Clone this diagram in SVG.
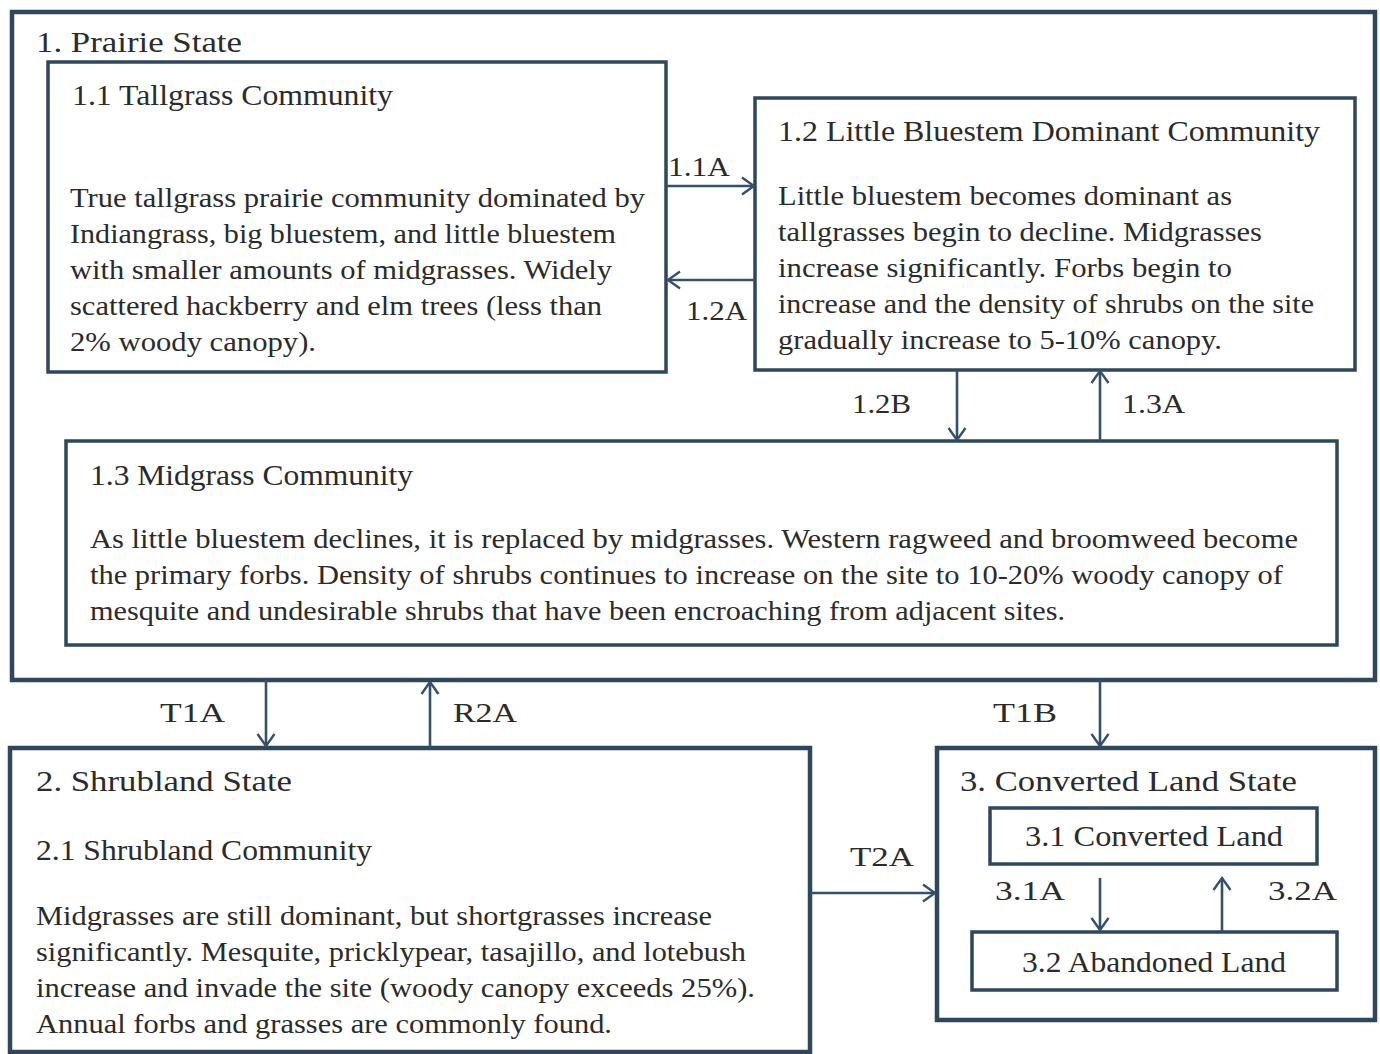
<svg xmlns="http://www.w3.org/2000/svg" width="1380" height="1054" viewBox="0 0 1380 1054">
<defs>
<marker id="ah" viewBox="0 0 16 20" refX="14" refY="10" markerWidth="16" markerHeight="20" markerUnits="userSpaceOnUse" orient="auto">
<path d="M2,1.5 L14,10 L2,18.5" fill="none" stroke="#34506a" stroke-width="2.4"/>
</marker>
</defs>
<style>
.box{fill:#ffffff;stroke:#2e475c;stroke-width:3.5}
.outer{fill:#ffffff;stroke:#2e475c;stroke-width:4.5}
.t{font-family:"Liberation Serif",serif;fill:#2b2b2b}
.h{font-size:29px}
.b{font-size:27px}
.l{font-size:28px}
.c{fill:none;stroke:#34506a;stroke-width:2.6;marker-end:url(#ah)}
</style>
<rect width="1380" height="1054" fill="#ffffff"/>

<g id="prairie-state">
<rect class="outer" x="12" y="12" width="1363" height="668"/>
<text class="t h" x="36" y="52" textLength="206" lengthAdjust="spacingAndGlyphs">1.  Prairie State</text>
</g>

<g id="tallgrass">
<rect class="box" x="48" y="62" width="618" height="310"/>
<text class="t h" x="72" y="105" textLength="321" lengthAdjust="spacingAndGlyphs">1.1 Tallgrass Community</text>
<text class="t b" x="70" y="207" textLength="575" lengthAdjust="spacingAndGlyphs">True tallgrass prairie  community dominated by</text>
<text class="t b" x="70" y="243" textLength="546" lengthAdjust="spacingAndGlyphs">Indiangrass, big bluestem, and little  bluestem</text>
<text class="t b" x="70" y="279" textLength="542" lengthAdjust="spacingAndGlyphs">with smaller amounts of midgrasses.  Widely</text>
<text class="t b" x="70" y="315" textLength="532" lengthAdjust="spacingAndGlyphs">scattered hackberry and elm trees (less than</text>
<text class="t b" x="70" y="351" textLength="246" lengthAdjust="spacingAndGlyphs">2% woody canopy).</text>
</g>

<g id="little-bluestem">
<rect class="box" x="755" y="98" width="600" height="272"/>
<text class="t h" x="778" y="141" textLength="542" lengthAdjust="spacingAndGlyphs">1.2  Little Bluestem Dominant Community</text>
<text class="t b" x="778" y="205" textLength="454" lengthAdjust="spacingAndGlyphs">Little bluestem  becomes dominant as</text>
<text class="t b" x="778" y="241" textLength="484" lengthAdjust="spacingAndGlyphs">tallgrasses begin to decline.  Midgrasses</text>
<text class="t b" x="778" y="277" textLength="454" lengthAdjust="spacingAndGlyphs">increase significantly.  Forbs begin to</text>
<text class="t b" x="778" y="313" textLength="536" lengthAdjust="spacingAndGlyphs">increase and the density of shrubs on the site</text>
<text class="t b" x="778" y="349" textLength="444" lengthAdjust="spacingAndGlyphs">gradually increase to 5-10% canopy.</text>
</g>

<g id="midgrass">
<rect class="box" x="66" y="441" width="1271" height="204"/>
<text class="t h" x="90" y="485" textLength="323" lengthAdjust="spacingAndGlyphs">1.3 Midgrass Community</text>
<text class="t b" x="90" y="548" textLength="1208" lengthAdjust="spacingAndGlyphs">As little  bluestem declines, it is replaced by midgrasses.  Western ragweed and broomweed become</text>
<text class="t b" x="90" y="584" textLength="1193" lengthAdjust="spacingAndGlyphs">the primary forbs.  Density of shrubs continues to increase  on the site to 10-20% woody canopy of</text>
<text class="t b" x="90" y="620" textLength="975" lengthAdjust="spacingAndGlyphs">mesquite and undesirable shrubs that have been encroaching from adjacent sites.</text>
</g>

<g id="shrubland-state">
<rect class="outer" x="10" y="748" width="800" height="304"/>
<text class="t h" x="36" y="791" textLength="256" lengthAdjust="spacingAndGlyphs">2.  Shrubland State</text>
<text class="t h" x="36" y="860" textLength="336" lengthAdjust="spacingAndGlyphs">2.1 Shrubland Community</text>
<text class="t b" x="36" y="925" textLength="676" lengthAdjust="spacingAndGlyphs">Midgrasses  are still  dominant, but shortgrasses increase</text>
<text class="t b" x="36" y="961" textLength="710" lengthAdjust="spacingAndGlyphs">significantly. Mesquite, pricklypear, tasajillo, and lotebush</text>
<text class="t b" x="36" y="997" textLength="719" lengthAdjust="spacingAndGlyphs">increase and invade the site (woody  canopy exceeds 25%).</text>
<text class="t b" x="36" y="1033" textLength="576" lengthAdjust="spacingAndGlyphs">Annual forbs and grasses are commonly found.</text>
</g>

<g id="converted-land-state">
<rect class="outer" x="937" y="748" width="438" height="272"/>
<text class="t h" x="960" y="791" textLength="337" lengthAdjust="spacingAndGlyphs">3.  Converted Land State</text>
</g>

<g id="converted-land">
<rect class="box" x="990" y="808" width="327" height="56"/>
<text class="t h" x="1025" y="846" textLength="258" lengthAdjust="spacingAndGlyphs">3.1  Converted Land</text>
</g>

<g id="abandoned-land">
<rect class="box" x="972" y="932" width="365" height="58"/>
<text class="t h" x="1022" y="972" textLength="264" lengthAdjust="spacingAndGlyphs">3.2 Abandoned Land</text>
</g>

<g id="connectors">
<line class="c" x1="666" y1="186" x2="754" y2="186"/>
<line class="c" x1="755" y1="280" x2="668" y2="280"/>
<line class="c" x1="957" y1="370" x2="957" y2="440"/>
<line class="c" x1="1100" y1="441" x2="1100" y2="371"/>
<line class="c" x1="266" y1="680" x2="266" y2="746"/>
<line class="c" x1="430" y1="748" x2="430" y2="682"/>
<line class="c" x1="1100" y1="680" x2="1100" y2="746"/>
<line class="c" x1="810" y1="893" x2="935" y2="893"/>
<line class="c" x1="1100" y1="878" x2="1100" y2="930"/>
<line class="c" x1="1222" y1="932" x2="1222" y2="878"/>
<text class="t l" x="668" y="176" textLength="62" lengthAdjust="spacingAndGlyphs">1.1A</text>
<text class="t l" x="686" y="320" textLength="61" lengthAdjust="spacingAndGlyphs">1.2A</text>
<text class="t l" x="852" y="413" textLength="59" lengthAdjust="spacingAndGlyphs">1.2B</text>
<text class="t l" x="1122" y="413" textLength="63" lengthAdjust="spacingAndGlyphs">1.3A</text>
<text class="t l" x="160" y="722" textLength="65" lengthAdjust="spacingAndGlyphs">T1A</text>
<text class="t l" x="453" y="722" textLength="64" lengthAdjust="spacingAndGlyphs">R2A</text>
<text class="t l" x="993" y="722" textLength="64" lengthAdjust="spacingAndGlyphs">T1B</text>
<text class="t l" x="850" y="866" textLength="64" lengthAdjust="spacingAndGlyphs">T2A</text>
<text class="t l" x="995" y="900" textLength="70" lengthAdjust="spacingAndGlyphs">3.1A</text>
<text class="t l" x="1268" y="900" textLength="69" lengthAdjust="spacingAndGlyphs">3.2A</text>
</g>
</svg>
